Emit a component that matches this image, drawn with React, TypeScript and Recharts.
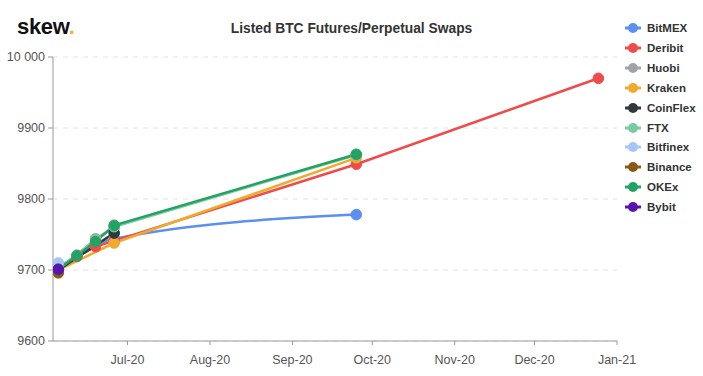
import React from 'react';
import { LineChart, Line, XAxis, YAxis, CartesianGrid } from 'recharts';

const expiries = ['2020-06-05', '2020-06-12', '2020-06-19', '2020-06-26', '2020-09-25', '2020-12-25'];

const bitmex = [9703, null, null, 9744, 9778, null];
const deribit = [9700, 9719, 9733, 9741, 9849, 9970];
const huobi = [9700, 9721, 9744, 9760, null, null];
const kraken = [9700, null, null, 9738, 9858, null];
const coinflex = [9700, null, null, 9752, null, null];
const ftx = [9702, null, 9742, 9761, 9862, null];
const bitfinex = [9710, null, null, null, null, null];
const binance = [9696, null, null, null, null, null];
const okex = [9701, 9720, 9740, 9763, 9863, null];
const bybit = [9701, null, null, null, null, null];

const seriesNames = ['BitMEX', 'Deribit', 'Huobi', 'Kraken', 'CoinFlex', 'FTX', 'Bitfinex', 'Binance', 'OKEx', 'Bybit'];
const seriesValues = [bitmex, deribit, huobi, kraken, coinflex, ftx, bitfinex, binance, okex, bybit];
const seriesColors = ['#5b8ff0', '#f04b4b', '#a0a4a8', '#f0ab2e', '#2f383d', '#7ccba0', '#a6c6f7', '#8a5a14', '#22a363', '#5a12b0'];
const seriesCurves = ['monotone', 'linear', 'linear', 'linear', 'linear', 'linear', 'linear', 'linear', 'linear', 'linear'];

const tickDates = ['2020-07-01', '2020-08-01', '2020-09-01', '2020-10-01', '2020-11-01', '2020-12-01', '2021-01-01'];
const tickLabels = ['Jul-20', 'Aug-20', 'Sep-20', 'Oct-20', 'Nov-20', 'Dec-20', 'Jan-21'];
const xDomainDates = ['2020-06-03', '2021-01-01'];

const yTicks = [9600, 9700, 9800, 9900, 10000];
const yTickLabels = ['9600', '9700', '9800', '9900', '10 000'];

const toDay = (s: string) => {
  const [y, m, d] = s.split('-').map(Number);
  return Date.UTC(y, m - 1, d) / 86400000;
};

const data = expiries.map((d, i) => {
  const row: Record<string, number | null> = { x: toDay(d) };
  seriesNames.forEach((n, k) => {
    row[n] = seriesValues[k][i];
  });
  return row;
});

const xTicks = tickDates.map(toDay);
const FONT = '"Liberation Sans", Arial, sans-serif';

export default function App() {
  return (
    <div style={{ position: 'absolute', left: 0, top: 0, width: 703, height: 376, background: '#fff', fontFamily: FONT }}>
      <div style={{ position: 'absolute', left: 17, top: 14, fontSize: 22, fontWeight: 700, color: '#111', lineHeight: '26px', letterSpacing: -0.3 }}>
        skew<span style={{ color: '#f0b43c' }}>.</span>
      </div>
      <div style={{ position: 'absolute', left: 0, width: 703, top: 20, textAlign: 'center', fontSize: 13.8, fontWeight: 700, color: '#333', lineHeight: '18px' }}>
        Listed BTC Futures/Perpetual Swaps
      </div>
      <LineChart width={703} height={376} data={data} margin={{ top: 57, right: 86, left: 0, bottom: 5 }}>
        <CartesianGrid horizontal vertical={false} stroke="#e2e2e2" strokeDasharray="5 5" />
        <XAxis
          dataKey="x"
          type="number"
          domain={[toDay(xDomainDates[0]), toDay(xDomainDates[1])]}
          ticks={xTicks}
          tickFormatter={(v: number) => tickLabels[xTicks.indexOf(v)] ?? ''}
          height={30}
          tickSize={4}
          tickMargin={10}
          stroke="#999"
          tick={{ fill: '#555', fontSize: 12.5, fontFamily: FONT }}
          allowDataOverflow
        />
        <YAxis
          type="number"
          domain={[9600, 10000]}
          ticks={yTicks}
          tickFormatter={(v: number) => yTickLabels[yTicks.indexOf(v)] ?? String(v)}
          width={53}
          tickSize={5}
          tickMargin={3}
          stroke="#999"
          tick={{ fill: '#555', fontSize: 12.5, fontFamily: FONT }}
        />
        {seriesNames.map((n, k) => (
          <Line
            key={n}
            type={seriesCurves[k] as any}
            dataKey={n}
            stroke={seriesColors[k]}
            strokeWidth={2.5}
            connectNulls
            isAnimationActive={false}
            dot={{ r: 5.3, fill: seriesColors[k], stroke: seriesColors[k], strokeWidth: 1 }}
            activeDot={false}
          />
        ))}
      </LineChart>
      <div style={{ position: 'absolute', left: 625, top: 18 }}>
        {seriesNames.map((n, k) => (
          <div key={n} style={{ display: 'flex', alignItems: 'center', height: 19.93 }}>
            <svg width={16} height={12} style={{ marginRight: 6 }}>
              <line x1={0} y1={6} x2={16} y2={6} stroke={seriesColors[k]} strokeWidth={3} />
              <circle cx={8} cy={6} r={5} fill={seriesColors[k]} />
            </svg>
            <span style={{ fontSize: 11.5, fontWeight: 700, color: '#333' }}>{n}</span>
          </div>
        ))}
      </div>
    </div>
  );
}
